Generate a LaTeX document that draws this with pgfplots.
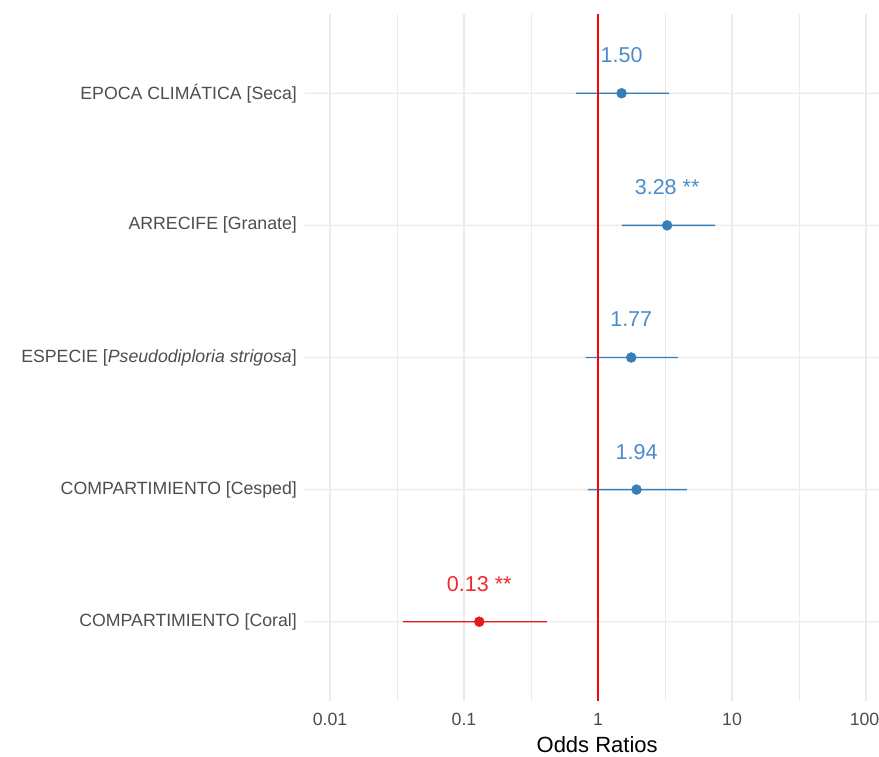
\documentclass[border=0pt]{standalone}
\usepackage{pgfplots}
\pgfplotsset{compat=1.18}
\usepackage{fontspec}
\setmainfont{Liberation Sans}
\definecolor{ptblue}{HTML}{377EB8}
\definecolor{txtblue}{HTML}{4A8CCB}
\definecolor{ptred}{HTML}{E41A1C}
\definecolor{txtred}{HTML}{EE2A2A}
\definecolor{gridc}{HTML}{EBEBEB}
\definecolor{labc}{HTML}{4D4D4D}
\begin{document}
\begin{tikzpicture}[x=1pt,y=1pt]
\begin{axis}[
  at={(305pt,55pt)}, anchor=south west,
  scale only axis, width=574pt, height=687pt,
  xmode=log, xmin=0.00651, xmax=125,
  ymin=0.4, ymax=5.6,
  axis line style={draw=none},
  xtick={0.01,0.1,1,10,100},
  xticklabels={0.01,0.1,1,10,\hspace*{-3pt}100},
  minor xtick={0.0316228,0.316228,3.16228,31.6228},
  ytick={1,2,3,4,5},
  yticklabels={COMPARTIMIENTO [Coral],COMPARTIMIENTO [Cesped],ESPECIE [\textit{Pseudodiploria strigosa}],ARRECIFE [Granate],EPOCA CLIMÁTICA [Seca]},
  major tick length=0pt, minor tick length=0pt,
  tick style={draw=none},
  xmajorgrids, xminorgrids,
  major grid style={gridc, line width=1.4pt},
  minor grid style={gridc, line width=0.8pt},
  tick label style={font=\fontsize{17.7}{21}\selectfont, text=labc, inner sep=0pt},
  yticklabel style={anchor=east, xshift=-8pt},
  xticklabel style={anchor=north, yshift=-12pt},
  xlabel={Odds Ratios},
  xlabel style={at={(rel axis cs:0.509,0)}, anchor=north, yshift=-35pt, inner sep=0pt, font=\fontsize{22}{26}\selectfont, text=black},
  clip=false,
]
% horizontal grid lines (one per row)
\addplot[draw=gridc, line width=1.4pt] coordinates {(0.00651,1) (125,1.0002)};
\addplot[draw=gridc, line width=1.4pt] coordinates {(0.00651,2) (125,2.0002)};
\addplot[draw=gridc, line width=1.4pt] coordinates {(0.00651,3) (125,3.0002)};
\addplot[draw=gridc, line width=1.4pt] coordinates {(0.00651,4) (125,4.0002)};
\addplot[draw=gridc, line width=1.4pt] coordinates {(0.00651,5) (125,5.0002)};
% confidence intervals
\addplot[draw=ptblue, line width=1.4pt] coordinates {(0.685,5) (3.39,5.0002)};
\addplot[draw=ptblue, line width=1.4pt] coordinates {(1.51,4) (7.47,4.0002)};
\addplot[draw=ptblue, line width=1.4pt] coordinates {(0.81,3) (3.95,3.0002)};
\addplot[draw=ptblue, line width=1.4pt] coordinates {(0.84,2) (4.61,2.0002)};
\addplot[draw=ptred, line width=1.4pt] coordinates {(0.035,1) (0.416,1.0002)};
% reference line
\addplot[draw=red, line width=1.5pt] coordinates {(1,0.4) (1,5.6)};
% points with labels
\addplot[only marks, mark=*, mark size=5pt, ptblue,
  nodes near coords, point meta=explicit symbolic,
  nodes near coords style={anchor=center, yshift=38pt, font=\fontsize{21.5}{25}\selectfont, text=txtblue, inner sep=0pt}]
  coordinates {(1.50,5) [1.50] (3.28,4) [3.28 **] (1.77,3) [1.77] (1.94,2) [1.94]};
\addplot[only marks, mark=*, mark size=5pt, ptred,
  nodes near coords, point meta=explicit symbolic,
  nodes near coords style={anchor=center, yshift=38pt, font=\fontsize{21.5}{25}\selectfont, text=txtred, inner sep=0pt}]
  coordinates {(0.13,1) [0.13 **]};
\end{axis}
\pgfresetboundingbox
\path[use as bounding box] (0,0) rectangle (879,756);
\end{tikzpicture}
\end{document}
